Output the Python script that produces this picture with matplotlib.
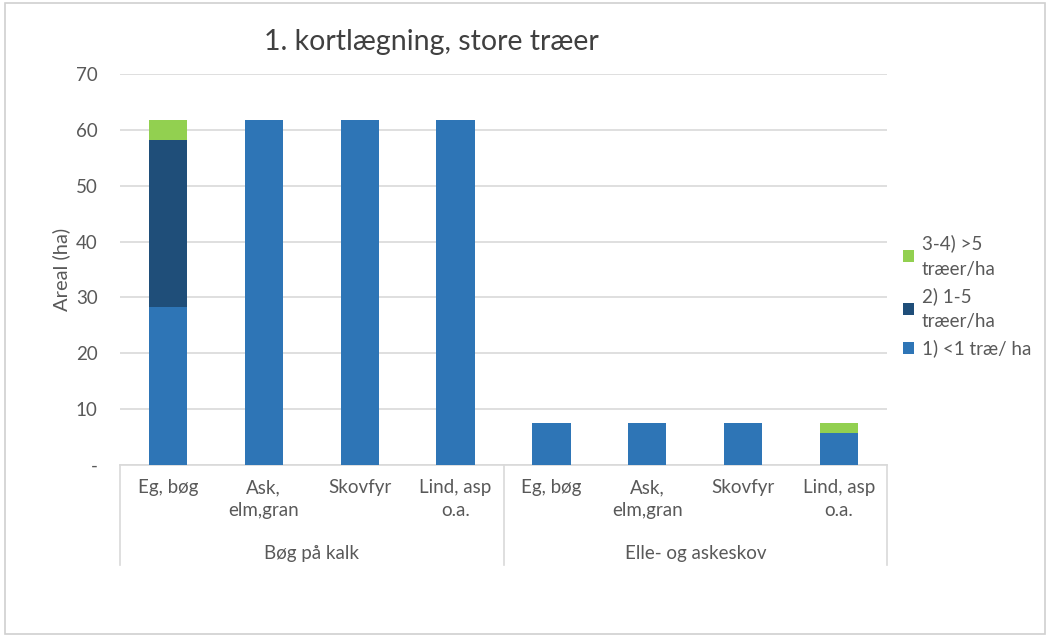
import numpy as np
import matplotlib.pyplot as plt
from matplotlib.patches import Rectangle

plt.rcParams['font.family'] = ['Lato', 'DejaVu Sans']

# --- data ---
species = ["Eg, bøg", "Ask,\nelm,gran", "Skovfyr", "Lind, asp\no.a."] * 2
groups = ["Bøg på kalk", "Elle- og askeskov"]
lt1 = [28.3, 61.8, 61.8, 61.8, 7.5, 7.5, 7.5, 5.8]     # 1) <1 træ/ ha
mid = [29.8, 0, 0, 0, 0, 0, 0, 0]                      # 2) 1-5 træer/ha
gt5 = [3.7, 0, 0, 0, 0, 0, 0, 1.7]                     # 3-4) >5 træer/ha
series_names = ["1) <1 træ/ ha", "2) 1-5\ntræer/ha", "3-4) >5\ntræer/ha"]
yticks = [0, 10, 20, 30, 40, 50, 60, 70]
ytick_labels = ["-", "10", "20", "30", "40", "50", "60", "70"]

C_BLUE, C_DARK, C_GREEN = '#2E75B6', '#1F4E79', '#92D050'
GRID = '#D9D9D9'
TXT = '#595959'

fig = plt.figure(figsize=(10.5, 6.37), dpi=100)
fig.patches.append(Rectangle((0.005, 0.005), 0.99, 0.99, transform=fig.transFigure,
                             fill=False, edgecolor='#D0D0D0', lw=1.2))
ax = fig.add_axes([120/1050, 1 - 465/637, (887 - 120)/1050, (465 - 74)/637])

x = np.arange(len(species))
w = 0.4
lt1 = np.array(lt1); mid = np.array(mid); gt5 = np.array(gt5)
h1 = ax.bar(x, lt1, w, color=C_BLUE, zorder=3)
h2 = ax.bar(x, mid, w, bottom=lt1, color=C_DARK, zorder=3)
h3 = ax.bar(x, gt5, w, bottom=lt1 + mid, color=C_GREEN, zorder=3)

ax.set_xlim(-0.5, len(species) - 0.5)
ax.set_ylim(0, 70)
ax.set_yticks(yticks)
ax.set_yticklabels(ytick_labels)
ax.yaxis.grid(True, color=GRID, lw=1.2, zorder=0)
ax.set_axisbelow(True)
for s in ['top', 'right', 'left']:
    ax.spines[s].set_visible(False)
ax.spines['bottom'].set_color(GRID)
ax.spines['bottom'].set_linewidth(1.2)
ax.tick_params(axis='y', length=0, pad=16, labelsize=13.5, labelcolor=TXT)
ax.set_xticks(x)
ax.set_xticklabels(species, linespacing=1.45)
ax.tick_params(axis='x', length=0, pad=10, labelsize=13.5, labelcolor=TXT)

ax.set_ylabel("Areal (ha)", fontsize=14.5, color=TXT, labelpad=4)

# group separators and labels
tr = ax.get_xaxis_transform()
for xs in [-0.5, 3.5, 7.5]:
    ax.plot([xs, xs], [0, -100/391], transform=tr, color=GRID, lw=1.2, clip_on=False)
for i, g in enumerate(groups):
    ax.text(1.5 + 4*i, -88/391, g, transform=tr, ha='center', va='center',
            fontsize=13.5, color=TXT)

fig.text(431/1050, 1 - 42/637, "1. kortlægning, store træer", ha='center', va='center',
         fontsize=20.5, color='#404040')

leg = fig.legend([h3, h2, h1], series_names[::-1], loc='center left',
                 bbox_to_anchor=(886/1050, 1 - 296/637), frameon=False, fontsize=13.5,
                 handlelength=0.6, handleheight=0.6, handletextpad=0.4,
                 labelspacing=0.5, labelcolor=TXT)
for t in leg.get_texts():
    t.set_linespacing(1.6)

fig.savefig("out.png", dpi=100)
